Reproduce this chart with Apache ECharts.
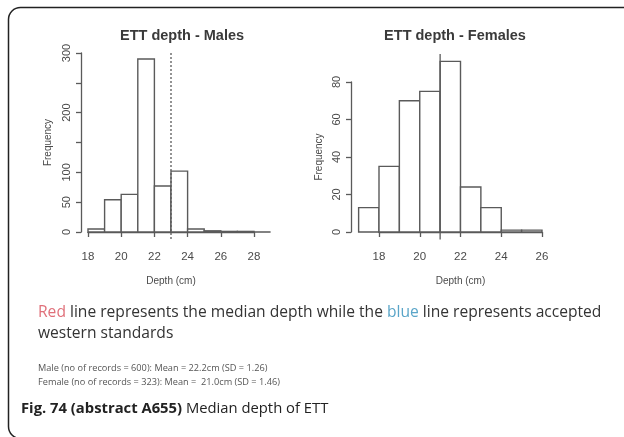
<!DOCTYPE html>
<html>
<head>
<meta charset="utf-8">
<script src="https://cdn.jsdelivr.net/npm/echarts@6/dist/echarts.min.js"></script>
<style>
html,body{margin:0;padding:0;background:#fff;}
#c{width:624px;height:437px;}
</style>
</head>
<body>
<div id="c"></div>
<script>
// Data
const maleTitle = 'ETT depth - Males';
const femaleTitle = 'ETT depth - Females';
const maleBinStart = [18, 19, 20, 21, 22, 23, 24, 25, 26, 27, 28];
const maleCounts   = [5, 54, 63, 290, 77, 102, 5, 2, 1, 1, 0];
const femaleBinStart = [17, 18, 19, 20, 21, 22, 23, 24, 25];
const femaleCounts   = [13, 35, 70, 75, 91, 24, 13, 1, 1];
const binWidth = 1;
const maleMedianLine = [23, 300, -13];   // x, top, bottom (frequency units)
const femaleMedianLine = [21, 95, -4];
const maleYTicks = [0, 50, 100, 200, 300];
const femaleYTicks = [0, 20, 40, 60, 80];
const xLabel = 'Depth (cm)';
const yLabel = 'Frequency';

const maleData = maleBinStart.map((s, i) => [s, s + binWidth, maleCounts[i]]);
const femaleData = femaleBinStart.map((s, i) => [s, s + binWidth, femaleCounts[i]]);

const stroke = '#5a5a5a';
const textCol = '#4a4a4a';
const font = 'Liberation Sans';

function histRender(params, api) {
  const p0 = api.coord([api.value(0), 0]);
  const p1 = api.coord([api.value(1), api.value(2)]);
  return {
    type: 'rect',
    shape: { x: p0[0], y: p1[1], width: p1[0] - p0[0], height: p0[1] - p1[1] },
    style: { fill: '#fff', stroke: stroke, lineWidth: 1.4 }
  };
}
function lineRender(dashed) {
  return function (params, api) {
    const a = api.coord([api.value(0), api.value(1)]);
    const b = api.coord([api.value(0), api.value(2)]);
    return {
      type: 'line',
      shape: { x1: a[0], y1: a[1], x2: b[0], y2: b[1] },
      style: { stroke: stroke, lineWidth: 1.3, lineDash: dashed ? [2, 2] : null }
    };
  };
}

function xAxisCfg(grid, min, max) {
  return {
    type: 'value', gridIndex: grid, min: min, max: max, interval: 2, offset: 7,
    splitLine: { show: false },
    axisLine: { lineStyle: { color: stroke, width: 1.3 } },
    axisTick: { length: 5, lineStyle: { color: stroke, width: 1.3 } },
    axisLabel: { color: textCol, fontSize: 11.5, fontFamily: font, margin: 12 },
    name: xLabel, nameLocation: 'middle', nameGap: 37,
    nameTextStyle: { color: textCol, fontSize: 10, fontFamily: font }
  };
}
function yAxisCfg(grid, max, interval, ticks, offset, nameGap) {
  return {
    type: 'value', gridIndex: grid, min: 0, max: max, interval: interval, offset: offset,
    splitLine: { show: false },
    axisLine: { show: true, lineStyle: { color: stroke, width: 1.3 } },
    axisTick: { show: true, length: 5, lineStyle: { color: stroke, width: 1.3 } },
    axisLabel: {
      color: textCol, fontSize: 11, fontFamily: font, rotate: 90, margin: 9,
      formatter: v => ticks.indexOf(v) >= 0 ? String(v) : ''
    },
    name: yLabel, nameLocation: 'middle', nameGap: nameGap,
    nameTextStyle: { color: textCol, fontSize: 10, fontFamily: font }
  };
}

const chart = echarts.init(document.getElementById('c'), null, { renderer: 'canvas' });
chart.setOption({
  backgroundColor: '#fff',
  animation: false,
  title: [
    { text: maleTitle, left: 177, top: 23, textAlign: 'center',
      textStyle: { fontSize: 14.5, fontWeight: 'bold', color: '#3a3a3a', fontFamily: font } },
    { text: femaleTitle, left: 450, top: 23, textAlign: 'center',
      textStyle: { fontSize: 14.5, fontWeight: 'bold', color: '#3a3a3a', fontFamily: font } }
  ],
  grid: [
    { left: 88, top: 53, width: 166, height: 179 },
    { left: 379, top: 82, width: 163, height: 150 }
  ],
  xAxis: [xAxisCfg(0, 18, 28), xAxisCfg(1, 18, 26)],
  yAxis: [yAxisCfg(0, 300, 50, maleYTicks, 7, 28), yAxisCfg(1, 80, 20, femaleYTicks, 28, 27)],
  series: [
    { type: 'custom', xAxisIndex: 0, yAxisIndex: 0, clip: false, renderItem: histRender, data: maleData, silent: true },
    { type: 'custom', xAxisIndex: 1, yAxisIndex: 1, clip: false, renderItem: histRender, data: femaleData, silent: true },
    { type: 'custom', xAxisIndex: 0, yAxisIndex: 0, clip: false, renderItem: lineRender(true), data: [maleMedianLine], silent: true, z: 5 },
    { type: 'custom', xAxisIndex: 1, yAxisIndex: 1, clip: false, renderItem: lineRender(false), data: [femaleMedianLine], silent: true, z: 5 }
  ],
  graphic: [
    { type: 'rect', left: 6, top: 5, shape: { width: 640, height: 431, r: 12 },
      style: { fill: 'none', stroke: '#222', lineWidth: 1.5 }, z: 1 },
    { type: 'text', left: 38, top: 302, z: 10, style: {
        text: '{r|Red} line represents the median depth while the {b|blue} line represents accepted\nwestern standards',
        font: '15.6px "Open Sans"', fill: '#333', lineHeight: 21,
        rich: { r: { fill: '#e0707a', font: '15.6px "Open Sans"' }, b: { fill: '#5aa5c8', font: '15.6px "Open Sans"' } } } },
    { type: 'text', left: 38, top: 361, z: 10, style: {
        text: 'Male (no of records = 600): Mean = 22.2cm (SD = 1.26)\nFemale (no of records = 323): Mean =  21.0cm (SD = 1.46)',
        font: '9.2px "Open Sans"', fill: '#555', lineHeight: 14 } },
    { type: 'text', left: 21, top: 401, z: 10, style: {
        text: '{bd|Fig. 74 (abstract A655)} Median depth of ETT',
        font: '14.8px "Open Sans"', fill: '#222',
        rich: { bd: { font: 'bold 14.8px "Open Sans"', fill: '#222' } } } }
  ]
});
</script>
</body>
</html>
